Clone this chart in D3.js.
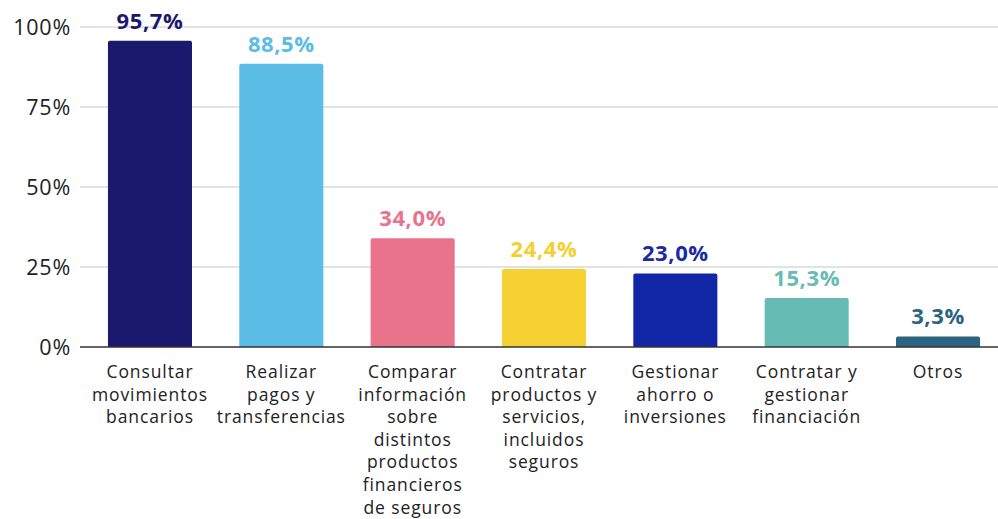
<!DOCTYPE html>
<html><head><meta charset="utf-8">
<script src="https://cdn.jsdelivr.net/npm/d3@7"></script>
<style>body{margin:0;background:#fff}svg{display:block}</style>
</head><body>
<svg id="c" width="998" height="519"></svg>
<script>
const categories = [
  ["Consultar","movimientos","bancarios"],
  ["Realizar","pagos y","transferencias"],
  ["Comparar","información","sobre","distintos","productos","financieros","de seguros"],
  ["Contratar","productos y","servicios,","incluidos","seguros"],
  ["Gestionar","ahorro o","inversiones"],
  ["Contratar y","gestionar","financiación"],
  ["Otros"]
];
const values = [95.7, 88.5, 34.0, 24.4, 23.0, 15.3, 3.3];
const valueLabels = ["95,7%","88,5%","34,0%","24,4%","23,0%","15,3%","3,3%"];
const barColors = ["#1b196e","#5bbde6","#e8738a","#f6d133","#1227a6","#66bcb4","#2a6480"];
const labelColors = ["#1b196e","#5bbde6","#e8738a","#f3cf2f","#1a2aa2","#66bcb4","#2a6480"];
const yTicks = [0,25,50,75,100];

const FONT = "'Open Sans', sans-serif";
const svg = d3.select("#c");
const y = d3.scaleLinear().domain([0,100]).range([347,27]);
const x = d3.scaleBand().domain(d3.range(values.length)).range([84.3,1003.7]).paddingInner(0.36).paddingOuter(0.18);

// gridlines
svg.append("g").selectAll("line").data(yTicks.filter(d=>d>0)).join("line")
  .attr("x1",80).attr("x2",998).attr("y1",d=>y(d)).attr("y2",d=>y(d))
  .attr("stroke","#d9d9d9").attr("stroke-width",1.5);

// y labels
svg.append("g").selectAll("text").data(yTicks).join("text")
  .attr("x",71).attr("y",d=>y(d)+7.5).attr("text-anchor","end")
  .attr("font-family",FONT).attr("font-size",21.5).attr("letter-spacing",0.8).attr("fill","#222")
  .text(d=>d+"%");

// bars with rounded top
svg.append("g").selectAll("path").data(values).join("path")
  .attr("fill",(d,i)=>barColors[i])
  .attr("d",(d,i)=>{
    const x0=x(i), w=x.bandwidth(), t=y(d), b=y(0), r=2;
    return `M${x0},${b}V${t+r}Q${x0},${t} ${x0+r},${t}H${x0+w-r}Q${x0+w},${t} ${x0+w},${t+r}V${b}Z`;
  });

// axis line
svg.append("line").attr("x1",80).attr("x2",998).attr("y1",y(0)).attr("y2",y(0))
  .attr("stroke","#333").attr("stroke-width",1.5);

// value labels
svg.append("g").selectAll("text").data(values).join("text")
  .attr("x",(d,i)=>x(i)+x.bandwidth()/2).attr("y",d=>y(d)-12)
  .attr("text-anchor","middle").attr("font-family",FONT).attr("font-weight",700)
  .attr("font-size",22).attr("letter-spacing",0.6).attr("fill",(d,i)=>labelColors[i])
  .text((d,i)=>valueLabels[i]);

// category labels
const cg = svg.append("g").selectAll("text").data(categories).join("text")
  .attr("text-anchor","middle").attr("font-family",FONT).attr("font-size",17.5)
  .attr("letter-spacing",0.9).attr("fill","#222")
  .attr("transform",(d,i)=>`translate(${x(i)+x.bandwidth()/2},378)`);
cg.selectAll("tspan").data(d=>d).join("tspan")
  .attr("x",0).attr("y",(d,j)=>j*22.6).text(d=>d);
</script>
</body></html>
